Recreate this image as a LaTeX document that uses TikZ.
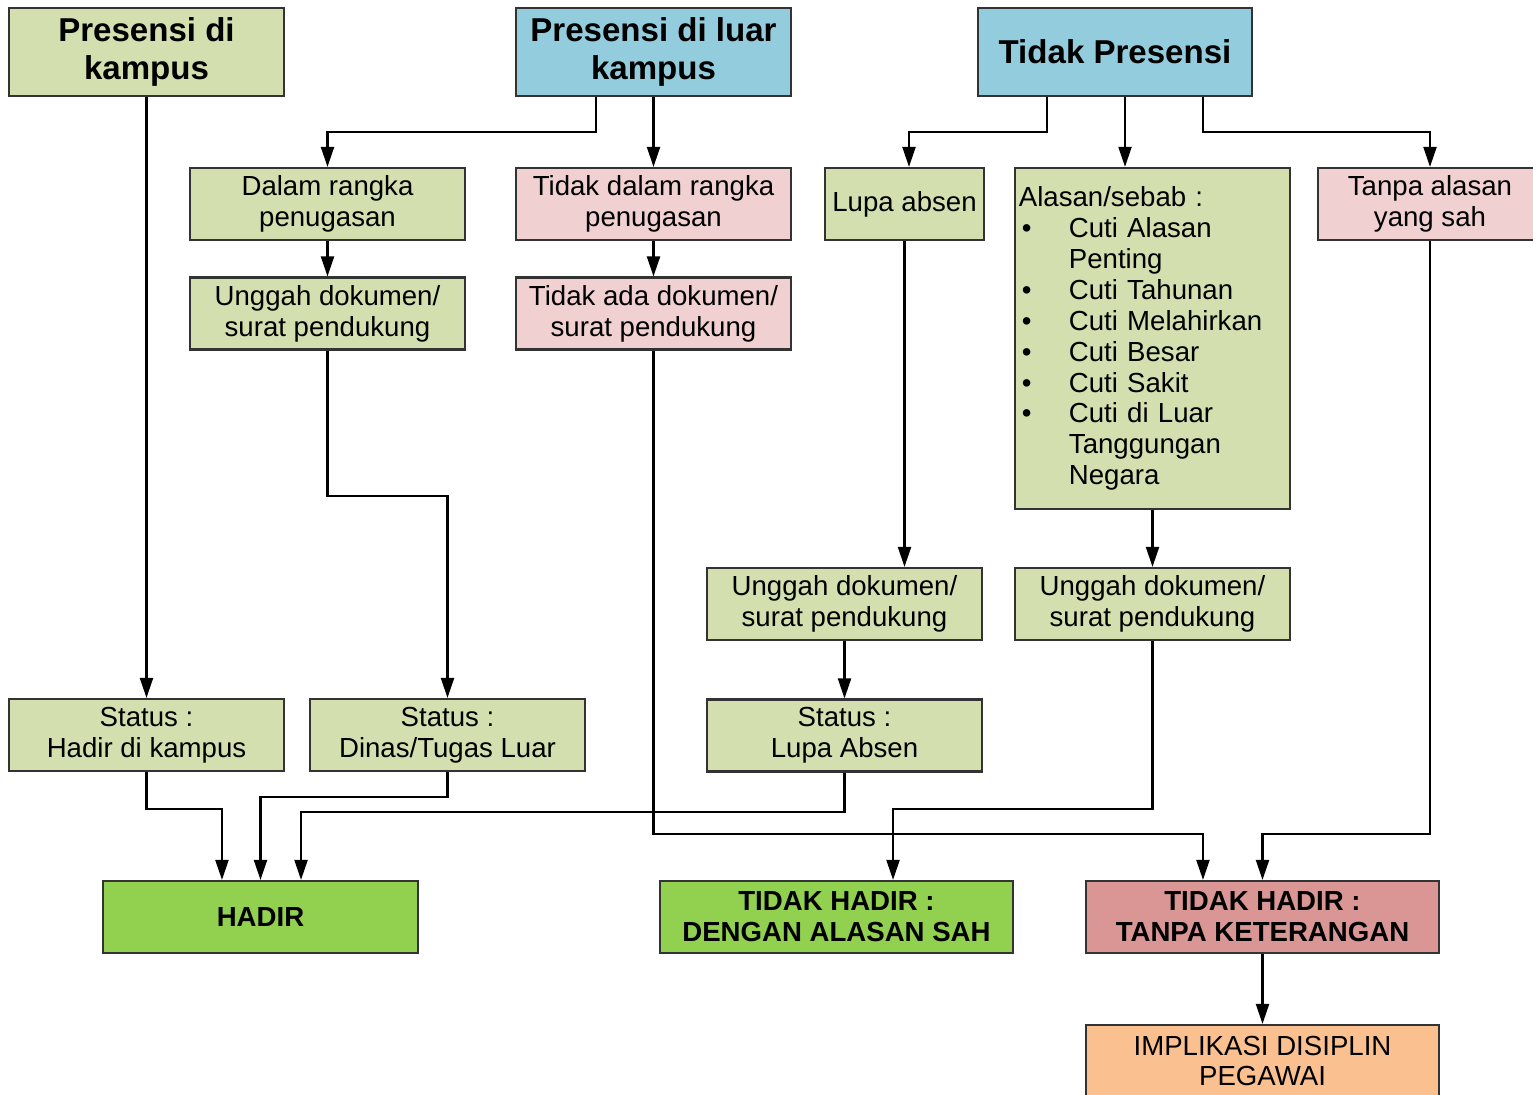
\documentclass[tikz,border=0pt]{standalone}
\usepackage{fontspec}
\setmainfont{Liberation Sans}
\usepackage{xcolor}
\usetikzlibrary{arrows.meta}
\definecolor{hijau}{HTML}{D3DFAE}
\definecolor{biru}{HTML}{93CDDD}
\definecolor{merah}{HTML}{F0D0D0}
\definecolor{hijautua}{HTML}{92D050}
\definecolor{mawar}{HTML}{D99694}
\definecolor{jingga}{HTML}{FAC090}
\tikzset{
	kotak/.style={draw=black!80, line width=0.6pt, rectangle, align=center,
		minimum width=2.75cm, minimum height=0.72cm, inner sep=1pt,
		font=\fontsize{7.85}{8.8}\selectfont},
	judul/.style={kotak, minimum height=0.88cm, font=\fontsize{9.4}{10.6}\selectfont\bfseries},
	hasil/.style={kotak, font=\fontsize{7.85}{8.8}\selectfont\bfseries},
	panah/.style={line width=0.6pt, -{Triangle[length=0.2cm,width=0.13cm]}},
}
\begin{document}
\begin{tikzpicture}[x=0.01cm, y=-0.01cm]
			\useasboundingbox (0,0) rectangle (1533,1095);
			% baris atas
			\node[judul, fill=hijau] (pk) at (146.5,52) {Presensi di\\kampus};
			\node[judul, fill=biru] (pl) at (653.5,52) {Presensi di luar\\kampus};
			\node[judul, fill=biru, minimum width=2.74cm] (tp) at (1115,52) {Tidak Presensi};
			%
			\node[kotak, fill=hijau] (dr) at (327.5,204) {Dalam rangka\\penugasan};
			\node[kotak, fill=merah] (tdr) at (653.5,204) {Tidak dalam rangka\\penugasan};
			\node[kotak, fill=hijau, minimum width=1.59cm] (la) at (904.5,204) {Lupa absen};
			\node[kotak, fill=merah, minimum width=2.24cm] (ta) at (1430,204) {Tanpa alasan\\yang sah};
			\node[kotak, fill=hijau] (ud1) at (327.5,313.5) {Unggah dokumen/\\surat pendukung};
			\node[kotak, fill=merah] (tad) at (653.5,313.5) {Tidak ada dokumen/\\surat pendukung};
			\node[kotak, fill=hijau, minimum height=3.41cm, align=left, text width=2.67cm,
				inner xsep=0.04cm] (as) at (1152.5,338.5) {Alasan/sebab :\\
				\hspace*{0.03cm}\makebox[0.47cm][l]{\textbullet}Cuti Alasan\\
				\hspace*{0.5cm}Penting\\
				\hspace*{0.03cm}\makebox[0.47cm][l]{\textbullet}Cuti Tahunan\\
				\hspace*{0.03cm}\makebox[0.47cm][l]{\textbullet}Cuti Melahirkan\\
				\hspace*{0.03cm}\makebox[0.47cm][l]{\textbullet}Cuti Besar\\
				\hspace*{0.03cm}\makebox[0.47cm][l]{\textbullet}Cuti Sakit\\
				\hspace*{0.03cm}\makebox[0.47cm][l]{\textbullet}Cuti di Luar\\
				\hspace*{0.5cm}Tanggungan\\
				\hspace*{0.5cm}Negara};
			\node[kotak, fill=hijau] (ud2) at (844.5,604) {Unggah dokumen/\\surat pendukung};
			\node[kotak, fill=hijau] (ud3) at (1152.5,604) {Unggah dokumen/\\surat pendukung};
			% status
			\node[kotak, fill=hijau] (sk) at (146.5,735) {Status :\\Hadir di kampus};
			\node[kotak, fill=hijau] (sd) at (447.5,735) {Status :\\Dinas/Tugas Luar};
			\node[kotak, fill=hijau] (sl) at (844.5,735.5) {Status :\\Lupa Absen};
			% hasil akhir
			\node[hasil, fill=hijautua, minimum width=3.15cm] (hadir) at (260.5,917) {HADIR};
			\node[hasil, fill=hijautua, minimum width=3.53cm] (ths) at (836.5,917) {TIDAK HADIR :\\DENGAN ALASAN SAH};
			\node[hasil, fill=mawar, minimum width=3.53cm] (thk) at (1262.5,917) {TIDAK HADIR :\\TANPA KETERANGAN};
			\node[kotak, fill=jingga, minimum width=3.53cm] (imp) at (1262.5,1061) {IMPLIKASI DISIPLIN\\PEGAWAI};
			% panah lurus
			\foreach \S/\E in {pk/sk, pl/tdr, dr/ud1, tdr/tad, as/ud3, ud2/sl, thk/imp}
				\draw[panah] (\S.south) -- (\E.north);
			\draw[panah] (la.south) -- (la.south |- ud2.north);
			\draw[panah] ([xshift=1mm]tp.south) -- ([xshift=1mm]tp.south |- as.north);
			% panah bersiku
			\draw[panah] ([xshift=-5.75mm]pl.south) -- ++(0,35) -| (dr.north);
			\draw[panah] ([xshift=-6.8mm]tp.south) -- ++(0,35) -| ([xshift=0.45mm]la.north);
			\draw[panah] ([xshift=8.8mm]tp.south) -- ++(0,35) -| (ta.north);
			\draw[panah] (ud1.south) -- ++(0,145) -| (sd.north);
			\draw[panah] (tad.south) -- ++(0,483) -| ([xshift=-5.95mm]thk.north);
			\draw[panah] (ta.south) -- ++(0,593) -| (thk.north);
			\draw[panah] (sk.south) -- ++(0,37) -| ([xshift=-3.85mm]hadir.north);
			\draw[panah] (sd.south) -- ++(0,25) -| (hadir.north);
			\draw[panah] (sl.south) -- ++(0,39) -| ([xshift=4.05mm]hadir.north);
			\draw[panah] (ud3.south) -- ++(0,168) -| ([xshift=5.65mm]ths.north);
		\end{tikzpicture}
\end{document}
